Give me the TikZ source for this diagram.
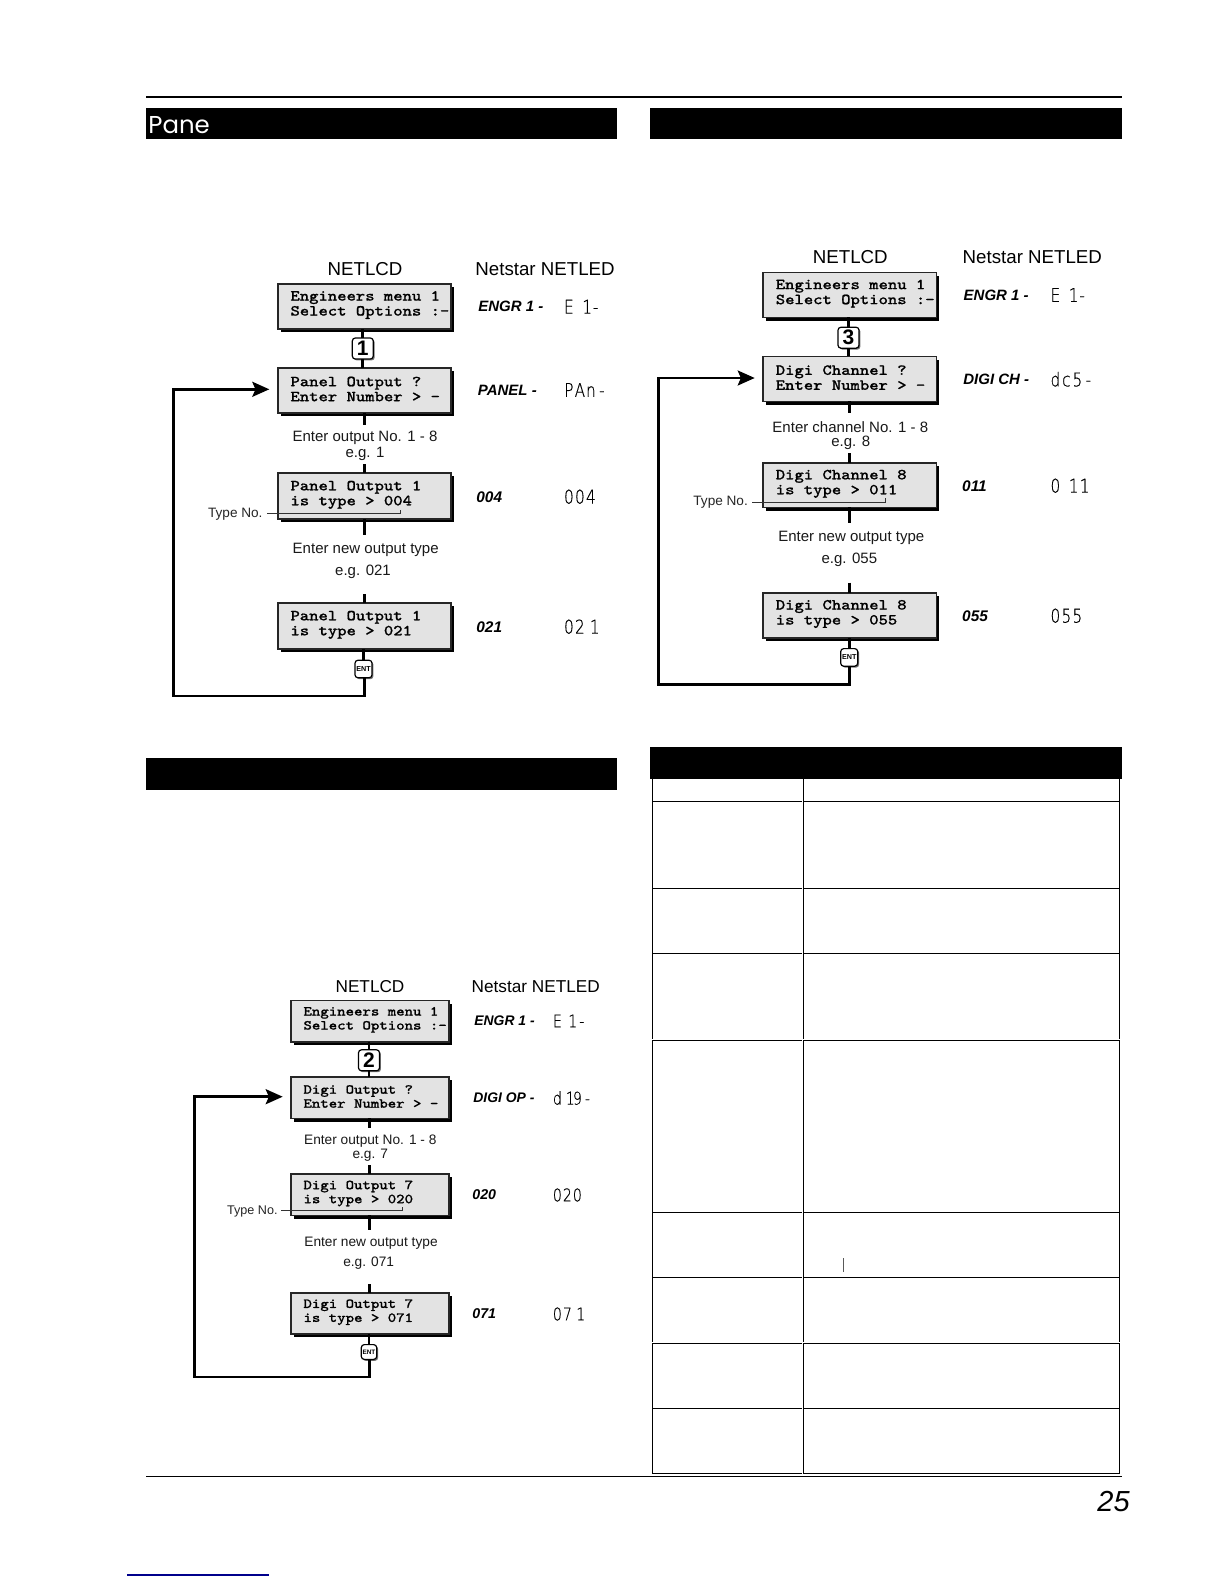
\documentclass[tikz,border=0pt]{standalone}
\usepackage{fontspec}
\setmainfont{Liberation Sans}
\newfontfamily\panefont{Poppins}
\newfontfamily\ledfont[FakeStretch=0.8,FakeBold=0.4]{DejaVu Sans ExtraLight}
\newfontfamily\lcdfont[FakeBold=1.1,FakeStretch=1.15]{Latin Modern Mono}
\usetikzlibrary{arrows.meta,shadows,calc}
\newcommand{\lcdA}{\lcdfont\fontsize{7.65}{7.5}\selectfont\baselineskip=7.5pt }
\newcommand{\lcdB}{\lcdfont\fontsize{6.9}{7}\selectfont\baselineskip=7pt }
\tikzset{
  lcdnode/.style={draw=black!85,line width=0.8pt,fill=black!11,inner sep=0pt,outer sep=0pt,
    drop shadow={shadow xshift=1.5pt,shadow yshift=-1.6pt,fill=black,opacity=1}},
  numbox/.style={draw=black,line width=0.6pt,fill=white,rounded corners=1.5pt,inner sep=0pt,outer sep=0pt,
    minimum width=10.5pt,minimum height=10.5pt,font=\bfseries\fontsize{10.5}{10.5}\selectfont,
    drop shadow={shadow xshift=0.7pt,shadow yshift=-0.7pt,fill=black!55,opacity=1}},
  entbox/.style={numbox,minimum width=8.5pt,minimum height=8.8pt,font=\bfseries\fontsize{3.6}{4}\selectfont},
  stub/.style={line width=1.35pt,draw=black},
  loopline/.style={line width=1.25pt,draw=black,-{Stealth[length=8.5pt,width=7.5pt,inset=1.6pt]}},
  leader/.style={line width=0.45pt,draw=black!80},
  headbar/.style={fill=black,draw=none},
  rule/.style={line width=0.65pt,draw=black},
  capA/.style={inner sep=0pt,yshift=-0.8pt,text=black!90,font=\fontsize{7.5}{9}\selectfont},
  capB/.style={inner sep=0pt,yshift=-0.8pt,text=black!90,font=\fontsize{6.85}{8}\selectfont},
  typeA/.style={inner sep=0pt,anchor=west,yshift=-1pt,text=black!85,font=\fontsize{6.8}{8}\selectfont},
  typeB/.style={inner sep=0pt,anchor=west,yshift=-1pt,text=black!85,font=\fontsize{6.3}{8}\selectfont},
  titleA/.style={inner sep=0pt,font=\fontsize{9.35}{11}\selectfont},
  titleB/.style={inner sep=0pt,font=\fontsize{8.6}{10}\selectfont},
  codeA/.style={inner sep=0pt,anchor=west,font=\bfseries\itshape\fontsize{7.5}{9}\selectfont},
  codeB/.style={inner sep=0pt,anchor=west,font=\bfseries\itshape\fontsize{6.95}{9}\selectfont},
  numA/.style={inner sep=0pt,anchor=west,font=\bfseries\itshape\fontsize{7.7}{9}\selectfont},
  numB/.style={inner sep=0pt,anchor=west,font=\bfseries\itshape\fontsize{7.1}{9}\selectfont},
  ledA/.style={inner sep=0pt,anchor=west,text=black,font=\ledfont\fontsize{9.5}{10}\selectfont},
  ledB/.style={inner sep=0pt,anchor=west,text=black,font=\ledfont\fontsize{8.8}{10}\selectfont},
}
\newcommand{\lc}[1]{\makebox[5.5pt][c]{#1}}
\newcommand{\lr}[1]{\makebox[5.5pt][r]{#1\hspace*{-1.6pt}}}
\newcommand{\lcq}[1]{\makebox[5.5pt][r]{#1\hspace*{-3.3pt}}}
\newcommand{\ld}[1]{\makebox[5.5pt][r]{#1\hspace*{-1pt}}}
\newcommand{\lb}[1]{\makebox[5pt][c]{#1}}
\newcommand{\lbr}[1]{\makebox[5pt][r]{#1\hspace*{-1.4pt}}}
\newcommand{\lbq}[1]{\makebox[5pt][r]{#1\hspace*{-2.4pt}}}
\newcommand{\lbn}[1]{\makebox[5pt][r]{#1\hspace*{-1.2pt}}}
\newcommand{\lbd}[1]{\makebox[5pt][r]{#1\hspace*{-1pt}}}
% name x1 y1 x2 y2 font line1 line2
\newcommand{\lcdbox}[8]{%
  \pgfmathsetmacro\cxv{(#2+#4)/2}\pgfmathsetmacro\cyv{(#3+#5)/2}%
  \pgfmathsetmacro\wv{(#4-#2)*0.5}\pgfmathsetmacro\hv{(#5-#3)*0.5}%
  \node[lcdnode,minimum width=\wv pt,minimum height=\hv pt] (#1) at (\cxv,\cyv)
    {\vbox{#6\lineskiplimit=-20pt
      \hbox to \wv pt{\hspace*{6.4pt}#7\hfil}%
      \hbox to \wv pt{\hspace*{6.4pt}#8\hfil}%
      \kern1.2pt}};}
\begin{document}
\begin{tikzpicture}[x=0.5pt,y=-0.5pt]
\useasboundingbox (0,0) rectangle (1224,1584);
\fill[white] (0,0) rectangle (1224,1584);
% rules and bars
\draw[line width=1pt] (146,97.3) -- (1122,97.3);
\draw[line width=0.5pt,draw=black] (146,1476) -- (1122,1476);
\fill[headbar] (146,108) rectangle (617,139);
\fill[headbar] (650,108) rectangle (1122,139);
\fill[headbar] (146,758) rectangle (617,790);
\node[inner sep=0pt,anchor=base west,text=white,font=\panefont\fontsize{12.2}{14}\selectfont] (panetitle) at (148,133.5) {Pane};
% table
\fill[headbar] (650,747) rectangle (1122,779.3);
\draw[rule] (652.3,779) -- (652.3,1039) (803.3,779) -- (803.3,1039) (1119.3,779) -- (1119.3,1039);
\draw[rule] (652.3,1040.3) -- (652.3,1341.5) (803.3,1040.3) -- (803.3,1341.5) (1119.3,1040.3) -- (1119.3,1341.5);
\draw[rule] (652.3,1343.3) -- (652.3,1473.3) (803.3,1343.3) -- (803.3,1473.3) (1119.3,1343.3) -- (1119.3,1473.3);
\foreach \yy in {801.3,888.3,953.3,1040.3,1212.3,1277.3,1343.3,1408.3,1473.3}{
  \draw[rule] (652,\yy) -- (801.7,\yy) (803.3,\yy) -- (1119.6,\yy);
}
\draw[line width=0.7pt,draw=black!65] (843.7,1258) -- (843.7,1272);
\node[inner sep=0pt,font=\itshape\fontsize{14.5}{16}\selectfont] (pageno) at (1113.5,1501) {25};
\draw[line width=0.7pt,draw=blue!55!black] (127,1575) -- (269,1575);
%
% ---------- panel 1 ----------
\node[titleA] (t1a) at (365,269) {NETLCD};
\node[titleA,anchor=west] (t1b) at (475,269) {Netstar NETLED};
\lcdbox{a1}{277.7}{283.7}{451}{328.7}{\lcdA}{Engineers menu 1}{Select Options :-}
\lcdbox{a2}{277.7}{367.7}{451}{412.7}{\lcdA}{Panel Output ?}{Enter Number > -}
\lcdbox{a3}{277.7}{473}{451}{519}{\lcdA}{Panel Output 1}{is type > 004}
\lcdbox{a4}{277.7}{603}{451}{649}{\lcdA}{Panel Output 1}{is type > 021}
\node[numbox] (an) at (362.8,348.5) {1};
\node[entbox] (ae) at (363.5,669) {ENT};
\node[capA] (ac1) at (365,436.7) {Enter output No. 1 - 8};
\node[capA] (ac2) at (365,452) {e.g. 1};
\node[capA] (ac3) at (365.7,548) {Enter new output type};
\node[capA] (ac4) at (363,570) {e.g. 021};
\node[typeA] (at) at (207.7,512) {Type No.};
\coordinate (as1) at (364.3,425); \coordinate (as2) at (364.3,464);
\coordinate (as3) at (364.3,535); \coordinate (as4) at (364.3,594);
\coordinate (ab) at (364.3,696); \coordinate (al) at (173.3,696);
\coordinate (atip) at (269.3,389.3);
\coordinate (al1) at (267.3,513.3); \coordinate (al2) at (400,513.3); \coordinate (al3) at (400,510);
\draw[stub] (a1.south -| an) -- (an) -- (a2.north -| an);
\draw[stub] (as1 |- a2.south) -- (as1) (as2) -- (as2 |- a3.north) (as3 |- a3.south) -- (as3) (as4) -- (as4 |- a4.north);
\draw[stub] (ae |- a4.south) -- (ae);
\draw[loopline] (ae.south -| ab) -- (ab) -- (al) |- (atip);
\draw[leader] (al1) -- (al2) -- (al3);
\node[codeA] (ac5) at (478,306) {ENGR 1 -};
\node[codeA] (ac6) at (477.5,390) {PANEL -};
\node[numA] (ac7) at (476,496.7) {004};
\node[numA] (ac8) at (476,626.7) {021};
\node[ledA] (al5) at (563,306.7) {\lc{E}\lcq{1}\ld{-}};
\node[ledA] (al6) at (563,390) {\lc{P}\lc{A}\lc{n}\lc{-}};
\node[ledA] (al7) at (563,496.7) {\lc{0}\lc{0}\lc{4}};
\node[ledA] (al8) at (563,626.7) {\lc{0}\lc{2}\lr{1}};
%
% ---------- panel 3 ----------
\node[titleA] (t3a) at (850.3,257.3) {NETLCD};
\node[titleA,anchor=west] (t3b) at (962.3,257.3) {Netstar NETLED};
\lcdbox{c1}{763}{272.3}{936.3}{317.3}{\lcdA}{Engineers menu 1}{Select Options :-}
\lcdbox{c2}{763}{356.3}{936.3}{401.3}{\lcdA}{Digi Channel ?}{Enter Number > -}
\lcdbox{c3}{763}{462.7}{936.3}{507.3}{\lcdA}{Digi Channel 8}{is type > 011}
\lcdbox{c4}{763}{592.7}{936.3}{637.7}{\lcdA}{Digi Channel 8}{is type > 055}
\node[numbox] (cn) at (848.5,337.7) {3};
\node[entbox] (ce) at (849.2,657.4) {ENT};
\node[capA] (cc1) at (850.3,425.3) {Enter channel No. 1 - 8};
\node[capA] (cc2) at (850.7,441.2) {e.g. 8};
\node[capA] (cc3) at (851.3,536.3) {Enter new output type};
\node[capA] (cc4) at (849.3,558.3) {e.g. 055};
\node[typeA] (ct) at (693,500.5) {Type No.};
\coordinate (cs1) at (849.3,412.7); \coordinate (cs2) at (849.3,453.3);
\coordinate (cs3) at (849.3,523.3); \coordinate (cs4) at (849.3,582.7);
\coordinate (cb) at (849.3,684.3); \coordinate (cl) at (658.3,684.3);
\coordinate (ctip) at (754.7,378);
\coordinate (cl1) at (752.3,502); \coordinate (cl2) at (885,502); \coordinate (cl3) at (885,498);
\draw[stub] (c1.south -| cn) -- (cn) -- (c2.north -| cn);
\draw[stub] (cs1 |- c2.south) -- (cs1) (cs2) -- (cs2 |- c3.north) (cs3 |- c3.south) -- (cs3) (cs4) -- (cs4 |- c4.north);
\draw[stub] (ce |- c4.south) -- (ce);
\draw[loopline] (ce.south -| cb) -- (cb) -- (cl) |- (ctip);
\draw[leader] (cl1) -- (cl2) -- (cl3);
\node[codeA] (cc5) at (963.3,295) {ENGR 1 -};
\node[codeA] (cc6) at (963,379.3) {DIGI CH -};
\node[numA] (cc7) at (961.8,485.7) {011};
\node[numA] (cc8) at (961.8,615.7) {055};
\node[ledA] (cl5) at (1049.5,295) {\lc{E}\lcq{1}\ld{-}};
\node[ledA] (cl6) at (1049.5,379.3) {\lc{d}\lc{c}\lc{5}\lc{-}};
\node[ledA] (cl7) at (1049.5,485.7) {\lc{0}\lcq{1}\lcq{1}};
\node[ledA] (cl8) at (1049.5,615.7) {\lc{0}\lc{5}\lc{5}};
%
% ---------- panel 2 ----------
\node[titleB] (t2a) at (370,986.7) {NETLCD};
\node[titleB,anchor=west] (t2b) at (471.3,986.7) {Netstar NETLED};
\lcdbox{b1}{290.7}{1000.3}{448.7}{1041.7}{\lcdB}{Engineers menu 1}{Select Options :-}
\lcdbox{b2}{290.7}{1077}{448.7}{1118.3}{\lcdB}{Digi Output ?}{Enter Number > -}
\lcdbox{b3}{290.7}{1174}{448.7}{1215.3}{\lcdB}{Digi Output 7}{is type > 020}
\lcdbox{b4}{290.7}{1292.7}{448.7}{1334}{\lcdB}{Digi Output 7}{is type > 071}
\node[numbox] (bn) at (369,1060.3) {2};
\node[entbox,minimum width=7.7pt,minimum height=7.4pt,font=\bfseries\fontsize{3.2}{4}\selectfont] (be) at (369,1352) {ENT};
\node[capB] (bc1) at (370.3,1140) {Enter output No. 1 - 8};
\node[capB] (bc2) at (370.3,1154) {e.g. 7};
\node[capB] (bc3) at (371,1241.7) {Enter new output type};
\node[capB] (bc4) at (368.7,1261.7) {e.g. 071};
\node[typeB] (bt) at (226.7,1209.3) {Type No.};
\coordinate (bs1) at (369.3,1128); \coordinate (bs2) at (369.3,1165);
\coordinate (bs3) at (369.3,1230); \coordinate (bs4) at (369.3,1284);
\coordinate (bb) at (369.3,1377); \coordinate (bl) at (194.7,1377);
\coordinate (btip) at (282.7,1096.7);
\coordinate (bl1) at (281,1210.3); \coordinate (bl2) at (402,1210.3); \coordinate (bl3) at (402,1206.7);
\draw[stub] (b1.south -| bn) -- (bn) -- (b2.north -| bn);
\draw[stub] (bs1 |- b2.south) -- (bs1) (bs2) -- (bs2 |- b3.north) (bs3 |- b3.south) -- (bs3) (bs4) -- (bs4 |- b4.north);
\draw[stub] (be |- b4.south) -- (be);
\draw[loopline] (be.south -| bb) -- (bb) -- (bl) |- (btip);
\draw[leader] (bl1) -- (bl2) -- (bl3);
\node[codeB] (bc5) at (474,1020.7) {ENGR 1 -};
\node[codeB] (bc6) at (473,1098) {DIGI OP -};
\node[numB] (bc7) at (472,1195) {020};
\node[numB] (bc8) at (472,1314) {071};
\node[ledB] (bl5) at (552,1021) {\lb{E}\lbq{1}\lbd{-}};
\node[ledB] (bl6) at (552,1098) {\lb{d}\lbn{1}\lb{9}\lb{-}};
\node[ledB] (bl7) at (552,1195) {\lb{0}\lb{2}\lb{0}};
\node[ledB] (bl8) at (552,1314) {\lb{0}\lb{7}\lbr{1}};
\end{tikzpicture}
\end{document}
